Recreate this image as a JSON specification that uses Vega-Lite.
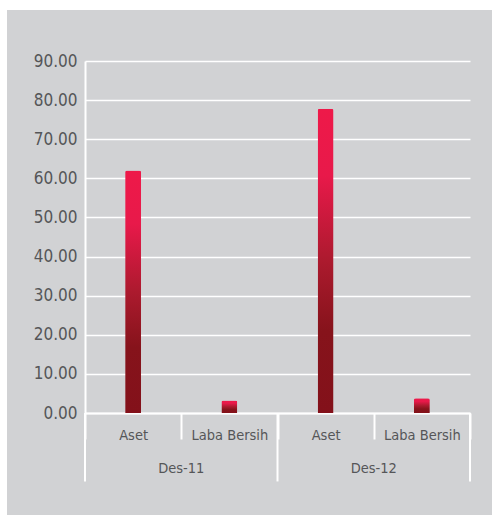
{
  "$schema": "https://vega.github.io/schema/vega-lite/v6.json",
  "width": 485,
  "height": 505,
  "autosize": {"type": "none"},
  "padding": {"left": 7, "top": 10, "right": 0, "bottom": 0},
  "background": "white",
  "config": {
    "view": {"fill": "#d1d2d4", "stroke": null},
    "font": "Liberation Sans Narrow, DejaVu Sans Condensed, Roboto, sans-serif"
  },
  "data": {
    "values": [
      {"group": "Des-11", "item": "Aset", "key": "Des-11|Aset", "value": 62.0},
      {"group": "Des-11", "item": "Laba Bersih", "key": "Des-11|Laba Bersih", "value": 3.2},
      {"group": "Des-12", "item": "Aset", "key": "Des-12|Aset", "value": 77.8},
      {"group": "Des-12", "item": "Laba Bersih", "key": "Des-12|Laba Bersih", "value": 3.8}
    ]
  },
  "encoding": {
    "x": {
      "field": "key",
      "type": "nominal",
      "sort": null,
      "scale": {"type": "band", "range": [78, 463], "paddingInner": 0, "paddingOuter": 0},
      "axis": {
        "orient": "bottom",
        "offset": -102,
        "title": null,
        "labelAngle": 0,
        "labelExpr": "split(datum.value, '|')[1]",
        "labelFont": "Liberation Sans Narrow, DejaVu Sans Condensed, Roboto, sans-serif",
        "labelFontSize": 14.5,
        "labelColor": "#555658",
        "labelPadding": -11,
        "domainColor": "white",
        "domainWidth": 2,
        "tickBand": "extent",
        "tickColor": "white",
        "tickWidth": 2,
        "tickSize": 26,
        "grid": false
      }
    }
  },
  "layer": [
    {
      "mark": {
        "type": "bar",
        "width": 16,
        "cornerRadiusTopLeft": 2,
        "cornerRadiusTopRight": 2,
        "color": {
          "gradient": "linear",
          "x1": 0, "y1": 1, "x2": 0, "y2": 0,
          "stops": [
            {"offset": 0, "color": "#83111a"},
            {"offset": 0.27, "color": "#86131b"},
            {"offset": 0.5, "color": "#ac1a2e"},
            {"offset": 0.78, "color": "#e8194a"},
            {"offset": 1, "color": "#ee1949"}
          ]
        }
      },
      "encoding": {
        "y": {
          "field": "value",
          "type": "quantitative",
          "scale": {"domain": [0, 90], "range": [403, 51], "nice": false, "zero": false},
          "axis": {
            "orient": "left",
            "offset": -78,
            "title": null,
            "values": [0, 10, 20, 30, 40, 50, 60, 70, 80, 90],
            "format": ".2f",
            "labelFont": "Liberation Sans Narrow, DejaVu Sans Condensed, Roboto, sans-serif",
            "labelFontSize": 17,
            "labelColor": "#555658",
            "labelPadding": 8,
            "ticks": false,
            "domainColor": "white",
            "domainWidth": 2,
            "grid": true,
            "gridColor": "white",
            "gridWidth": 1.5,
            "gridOpacity": 1
          }
        }
      }
    },
    {
      "transform": [{"filter": "datum.item === 'Aset'"}],
      "mark": {"type": "rule", "color": "white", "strokeWidth": 2},
      "encoding": {
        "x": {"field": "key", "type": "nominal", "bandPosition": 0},
        "y": {"datum": 0},
        "y2": {"datum": -17.5}
      }
    },
    {
      "transform": [{"filter": "datum.key === 'Des-12|Laba Bersih'"}],
      "mark": {"type": "rule", "color": "white", "strokeWidth": 2},
      "encoding": {
        "x": {"field": "key", "type": "nominal", "bandPosition": 1},
        "y": {"datum": 0},
        "y2": {"datum": -17.5}
      }
    },
    {
      "transform": [{"filter": "datum.item === 'Aset'"}],
      "mark": {
        "type": "text",
        "font": "Liberation Sans Narrow, DejaVu Sans Condensed, Roboto, sans-serif",
        "fontSize": 14.5,
        "color": "#555658",
        "baseline": "middle",
        "align": "center"
      },
      "encoding": {
        "x": {"field": "key", "type": "nominal", "bandPosition": 1},
        "y": {"datum": -14.3},
        "text": {"field": "group"}
      }
    }
  ]
}
